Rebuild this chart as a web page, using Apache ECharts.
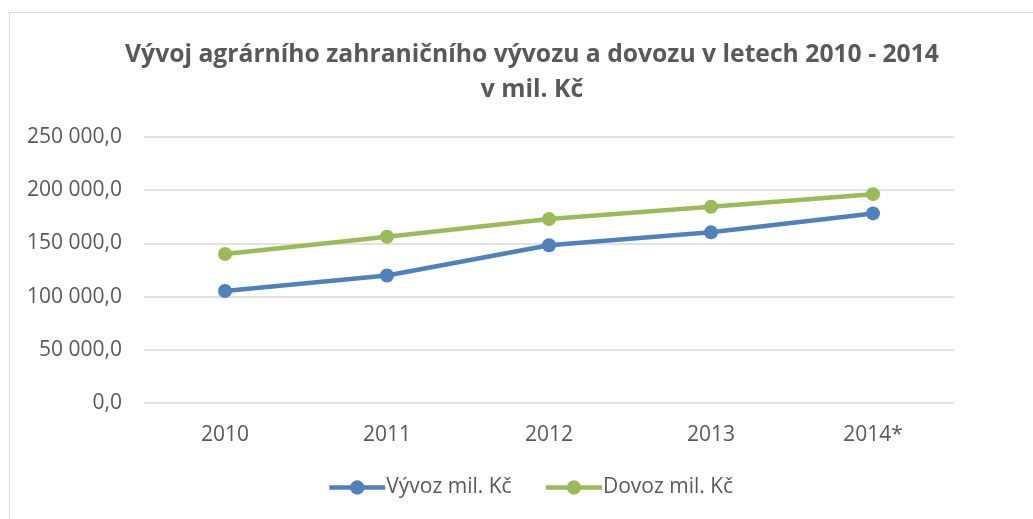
<!DOCTYPE html>
<html>
<head>
<meta charset="utf-8">
<script src="https://cdn.jsdelivr.net/npm/echarts@6/dist/echarts.min.js"></script>
<style>
  html, body { margin: 0; padding: 0; background: #fff; }
  #chart { width: 1033px; height: 519px; }
</style>
</head>
<body>
<div id="chart"></div>
<script>
// roky a hodnoty (mil. Kč)
var years = ['2010', '2011', '2012', '2013', '2014*'];
var vyvoz = [105300, 119800, 148200, 160400, 178200];
var dovoz = [140000, 156300, 172900, 184400, 196300];
var yTicks = [0, 50000, 100000, 150000, 200000, 250000];

function fmt(v) {
    var s = Math.round(v).toString().replace(/\B(?=(\d{3})+(?!\d))/g, ' ');
    return s + ',0';
}

var font = '"Open Sans", "Liberation Sans", sans-serif';
var chart = echarts.init(document.getElementById('chart'));

chart.setOption({
    animation: false,
    backgroundColor: '#fff',
    textStyle: { fontFamily: font },
    graphic: [{
        type: 'rect',
        shape: { x: 9.5, y: 12.5, width: 1100, height: 600 },
        style: { fill: 'none', stroke: '#d9d9d9', lineWidth: 1 },
        silent: true
    }],
    title: {
        text: 'Vývoj agrárního zahraničního vývozu a dovozu v letech 2010 - 2014\nv mil. Kč',
        left: 527,
        textAlign: 'center',
        top: 32,
        textStyle: {
            fontFamily: font,
            fontSize: 24.7,
            fontWeight: 'bold',
            color: '#595959',
            lineHeight: 35
        }
    },
    legend: {
        bottom: 16,
        left: 322,
        itemWidth: 56,
        itemHeight: 18,
        itemGap: 32,
        lineStyle: { width: 4.5 },
        textStyle: { fontFamily: font, fontSize: 21, color: '#595959', padding: [0, 0, 0, -4] },
        data: ['Vývoz mil. Kč', 'Dovoz mil. Kč']
    },
    grid: {
        left: 144,
        right: 79,
        top: 137,
        bottom: 116
    },
    xAxis: {
        type: 'category',
        data: years,
        boundaryGap: true,
        axisLine: { show: false },
        axisTick: { show: false },
        axisLabel: { fontSize: 21, color: '#595959', margin: 22, fontFamily: font }
    },
    yAxis: {
        type: 'value',
        min: yTicks[0],
        max: yTicks[yTicks.length - 1],
        interval: 50000,
        axisLine: { show: false },
        axisTick: { show: false },
        splitLine: { lineStyle: { color: '#d9d9d9', width: 1.5 } },
        axisLabel: {
            fontSize: 21,
            color: '#595959',
            margin: 22,
            fontFamily: font,
            formatter: fmt
        }
    },
    series: [{
        name: 'Vývoz mil. Kč',
        type: 'line',
        data: vyvoz,
        symbol: 'circle',
        symbolSize: 14,
        color: '#4f81bd',
        lineStyle: { width: 4.5, color: '#4f81bd' },
        itemStyle: { color: '#4f81bd' }
    }, {
        name: 'Dovoz mil. Kč',
        type: 'line',
        data: dovoz,
        symbol: 'circle',
        symbolSize: 14,
        color: '#9bbb59',
        lineStyle: { width: 4.5, color: '#9bbb59' },
        itemStyle: { color: '#9bbb59' }
    }]
});
</script>
</body>
</html>
